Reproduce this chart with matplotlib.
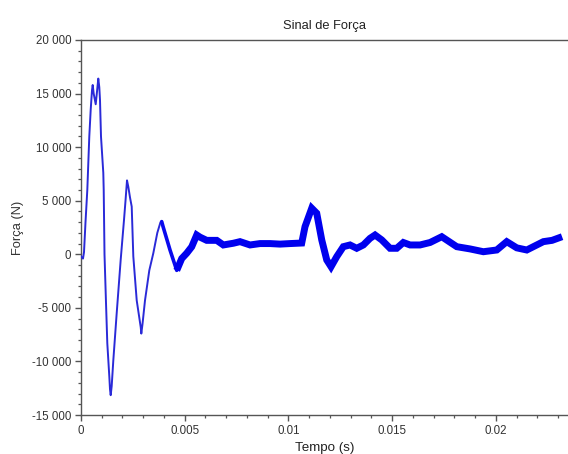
import matplotlib
matplotlib.use("Agg")
import matplotlib.pyplot as plt
from matplotlib.ticker import MultipleLocator, FuncFormatter

plt.rcParams['font.family'] = ['Liberation Sans', 'DejaVu Sans']

# Time (s) and force (N)
tempo = [0.00000, 0.000096, 0.000145, 0.000217, 0.000304, 0.000400, 0.000468,
         0.000530, 0.000564, 0.000612, 0.000709, 0.000757, 0.000834, 0.000882,
         0.000916, 0.000964, 0.001075, 0.001095, 0.001133, 0.001206, 0.001268,
         0.001365, 0.001398, 0.001432, 0.001480, 0.001558, 0.001721, 0.001914,
         0.002073, 0.002146, 0.002218, 0.002281, 0.002363, 0.002445, 0.002522,
         0.002686, 0.002879, 0.002908, 0.002966, 0.003086, 0.003293, 0.003486,
         0.003679, 0.003833, 0.003891,
         0.003954, 0.004292, 0.004615,
         0.004856, 0.005097, 0.005338, 0.005579, 0.005738, 0.006061, 0.006544,
         0.006862, 0.007344, 0.007667, 0.008149, 0.008631, 0.009114, 0.009596,
         0.010078, 0.010642, 0.010801, 0.011124, 0.011365, 0.011607, 0.011848,
         0.012055, 0.012330, 0.012648, 0.012971, 0.013294, 0.013613, 0.013936,
         0.014177, 0.014500, 0.014900, 0.015223, 0.015541, 0.015864, 0.016347,
         0.016829, 0.017393, 0.018116, 0.018758, 0.019399, 0.020045, 0.020527,
         0.021010, 0.021492, 0.022293, 0.022712, 0.023194]
forca = [-200, -400, 200, 3000, 6000, 11000, 13500,
         15300, 15800, 15000, 14000, 14900, 16400, 15600,
         14400, 11000, 7600, 6000, 0, -4560, -8300,
         -11400, -12600, -13150, -12300, -9900, -5500, -500,
         3200, 5000, 6900, 6300, 5300, 4450, -200,
         -4300, -6800, -7400, -6500, -4300, -1500, 100,
         2000, 3000, 3050,
         2600, 400, -1500,
         -400, 100, 700, 1800, 1600, 1300, 1300,
         870, 1030, 1180, 870, 1000, 1000, 950,
         1000, 1050, 2580, 4300, 3830, 1340, -530,
         -1160, -220, 710, 870, 560, 870, 1490,
         1800, 1340, 560, 560, 1100, 870, 870,
         1100, 1640, 710, 500, 240, 400, 1180,
         600, 400, 1180, 1300, 1640]

titulo = "Sinal de Força"
rotulo_x = "Tempo (s)"
rotulo_y = "Força (N)"

fig = plt.figure(figsize=(5.68, 4.54), dpi=100)
ax = fig.add_axes([81/568, 39/454, 487/568, 375/454])

i1 = 44   # third peak index
i2 = 47   # trough after third peak
ax.plot(tempo[:i1 + 1], forca[:i1 + 1], color='#2a2ad8', lw=1.4,
        solid_joinstyle='round', zorder=3)
ax.plot(tempo[i1:i2 + 1], forca[i1:i2 + 1], color='#0a0aee', lw=2.6,
        solid_joinstyle='round', solid_capstyle='round', zorder=3)
ax.plot(tempo[i2:], forca[i2:], color='#0000ee', lw=5.0,
        solid_joinstyle='miter', solid_capstyle='butt', zorder=3)

ax.set_xlim(0, 0.02348)
ax.set_ylim(-15000, 20000)

ax.xaxis.set_major_locator(MultipleLocator(0.005))
ax.xaxis.set_minor_locator(MultipleLocator(0.001))
ax.yaxis.set_major_locator(MultipleLocator(5000))
ax.yaxis.set_minor_locator(MultipleLocator(1000))

ax.xaxis.set_major_formatter(FuncFormatter(lambda v, p: '%g' % round(v, 6)))
ax.yaxis.set_major_formatter(
    FuncFormatter(lambda v, p: '{:,.0f}'.format(v).replace(',', ' ')))

for s in ['left', 'bottom', 'top']:
    ax.spines[s].set_color('#555555')
    ax.spines[s].set_linewidth(1.0)
ax.spines['right'].set_visible(False)

ax.tick_params(which='major', direction='out', length=4, width=1.0,
               color='#555555', labelsize=8.3, labelcolor='#333333', pad=3)
ax.tick_params(which='minor', direction='out', length=2.5, width=0.9,
               color='#555555')
ax.tick_params(axis='x', which='both', top=False)

ax.set_title(titulo, fontsize=9.3, color='#222222', pad=8)
ax.set_xlabel(rotulo_x, fontsize=9.6, color='#222222', labelpad=3.5)
ax.set_ylabel(rotulo_y, fontsize=9.3, color='#333333', labelpad=6)

fig.savefig('out.png', dpi=100)
